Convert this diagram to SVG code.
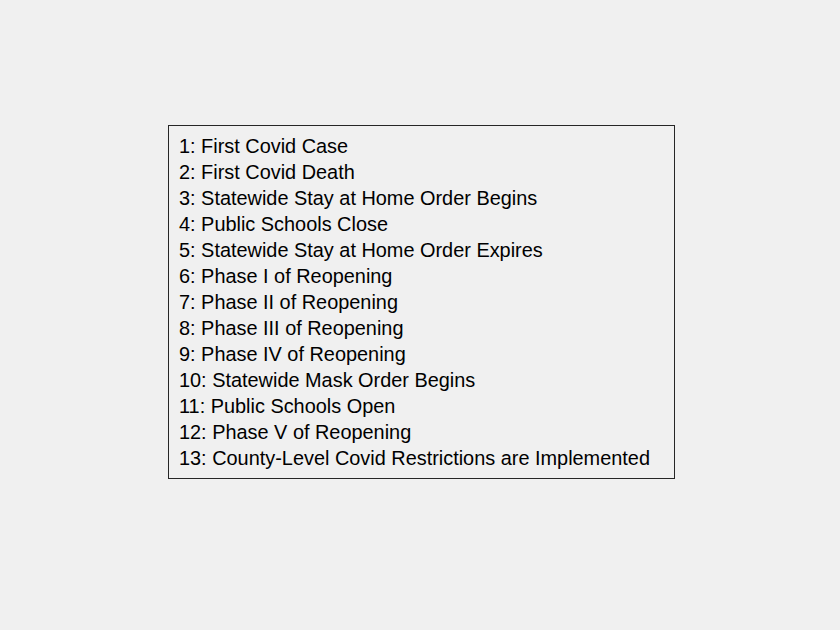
<svg xmlns="http://www.w3.org/2000/svg" width="840" height="630" viewBox="0 0 840 630">
<style>
.t{font-family:"Liberation Sans",Arial,sans-serif;font-size:19.9px;fill:#000}
</style>
<rect width="840" height="630" fill="#f0f0f0"/>
<g id="legend">
<rect x="168.5" y="125.5" width="506" height="353" fill="#f0f0f0" stroke="#262626" stroke-width="1"/>
<text class="t" x="179" y="153">1: First Covid Case</text>
<text class="t" x="179" y="179">2: First Covid Death</text>
<text class="t" x="179" y="205">3: Statewide Stay at Home Order Begins</text>
<text class="t" x="179" y="231">4: Public Schools Close</text>
<text class="t" x="179" y="257">5: Statewide Stay at Home Order Expires</text>
<text class="t" x="179" y="283">6: Phase I of Reopening</text>
<text class="t" x="179" y="309">7: Phase II of Reopening</text>
<text class="t" x="179" y="335">8: Phase III of Reopening</text>
<text class="t" x="179" y="361">9: Phase IV of Reopening</text>
<text class="t" x="179" y="387">10: Statewide Mask Order Begins</text>
<text class="t" x="179" y="413">11: Public Schools Open</text>
<text class="t" x="179" y="439">12: Phase V of Reopening</text>
<text class="t" x="179" y="465">13: County-Level Covid Restrictions are Implemented</text>
</g>
</svg>
